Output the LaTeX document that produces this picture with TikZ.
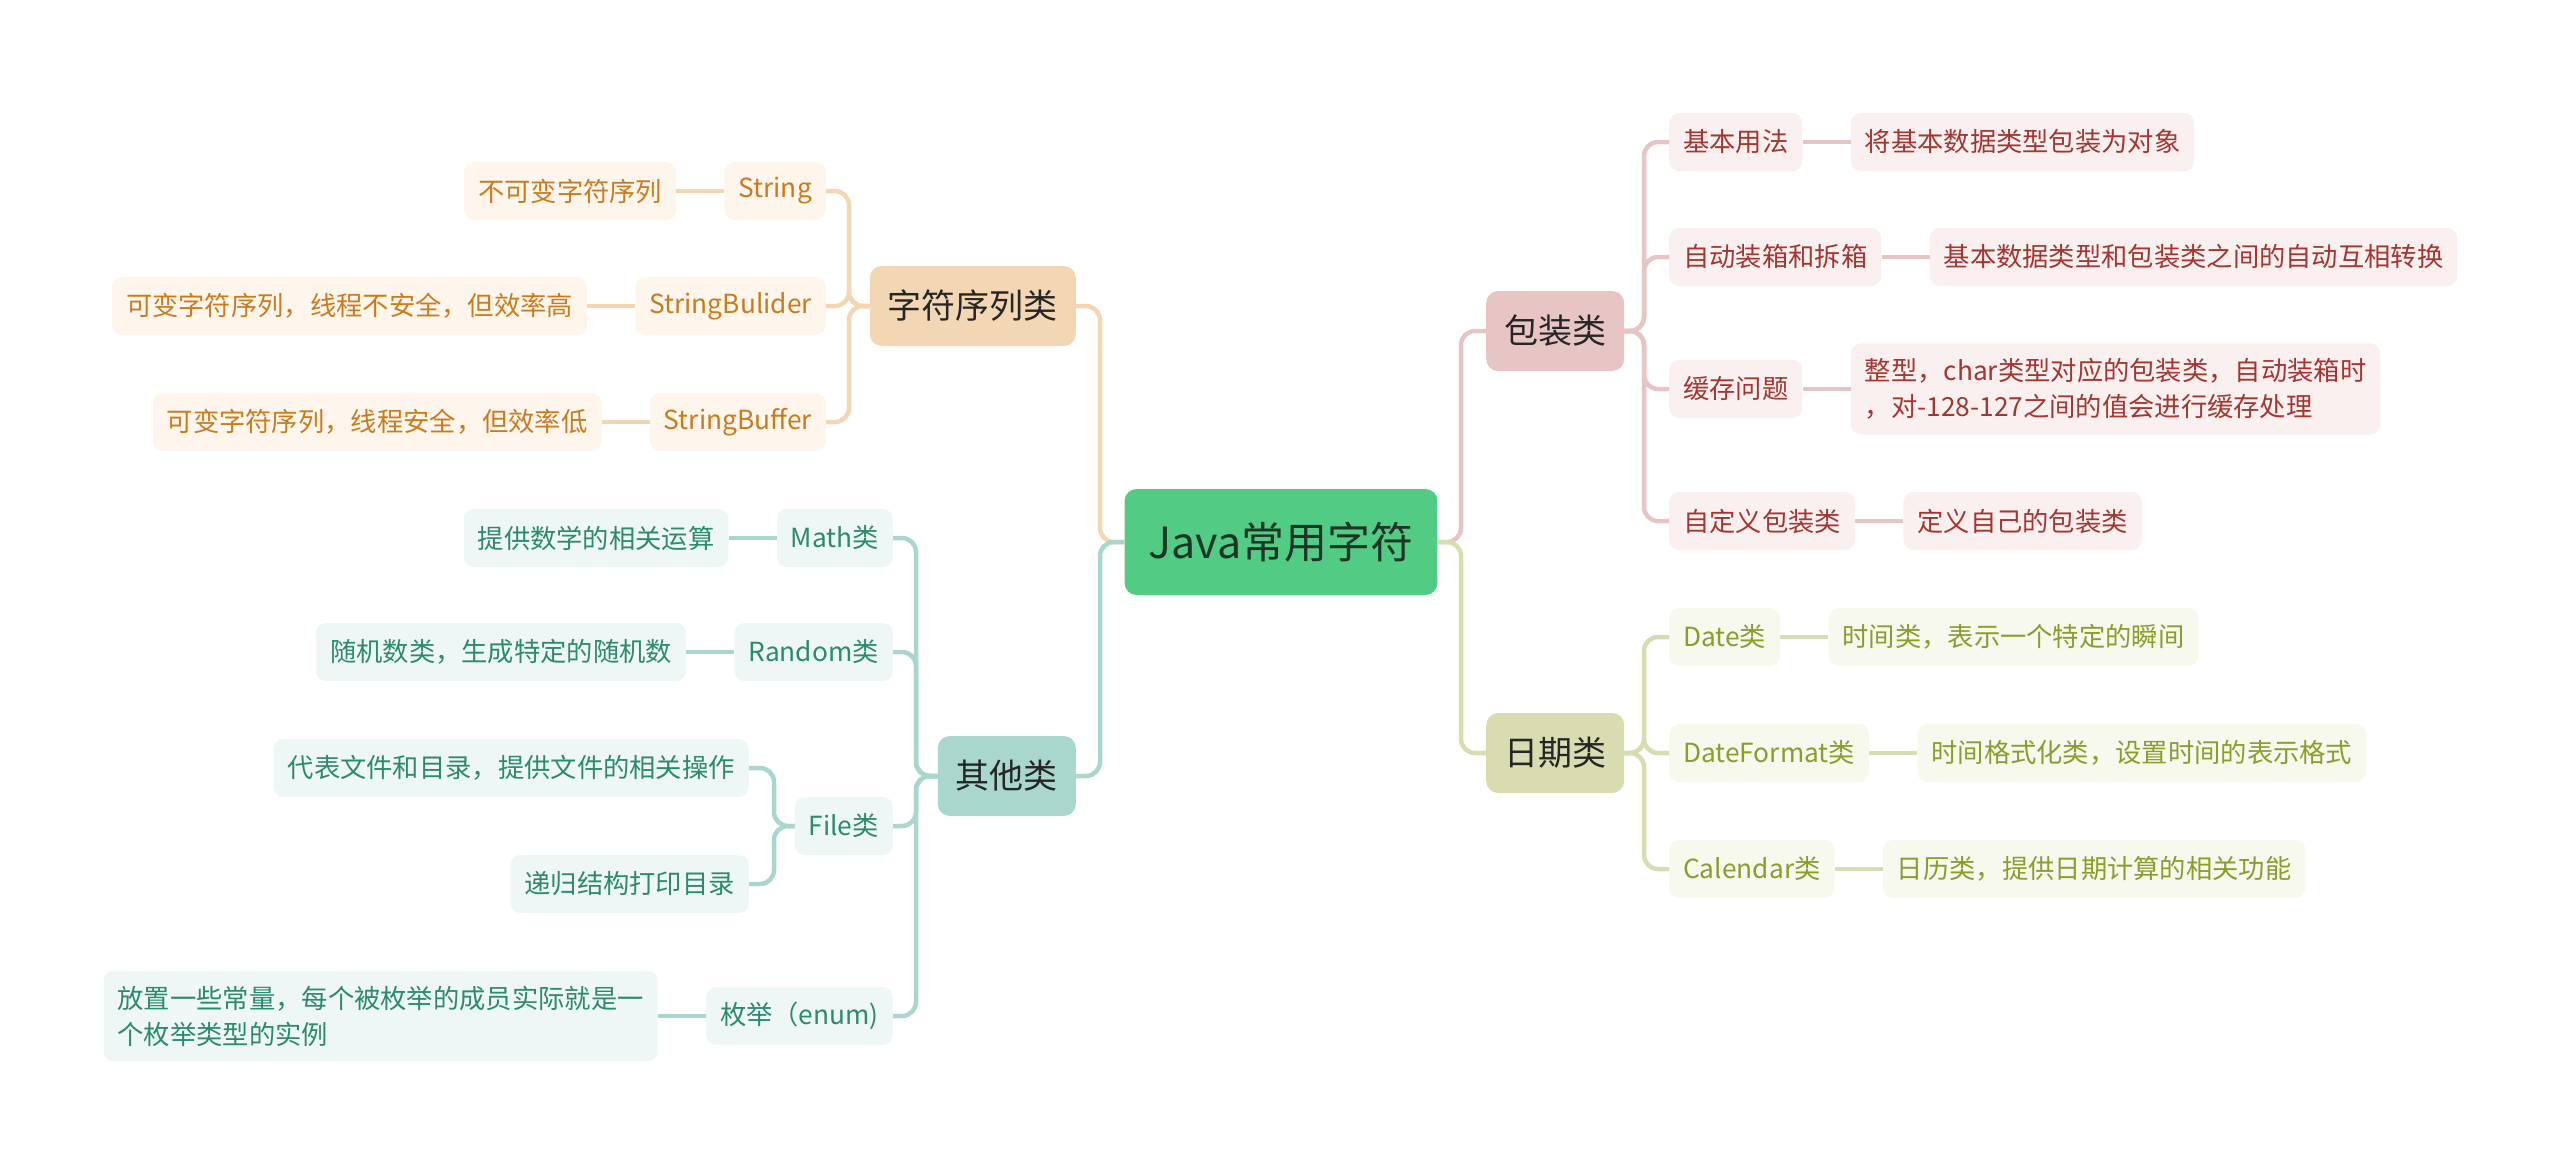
\documentclass[tikz,border=0pt]{standalone}
\usepackage{fontspec}
\setmainfont{Noto Sans CJK SC}
\usetikzlibrary{positioning}

\definecolor{rootfill}{HTML}{52CC84}
\definecolor{roottext}{HTML}{1C3526}
\definecolor{strtop}{HTML}{F3D6B3}
\definecolor{strfill}{HTML}{FEF6EC}
\definecolor{strtext}{HTML}{CC7A1C}
\definecolor{othtop}{HTML}{A9D6CD}
\definecolor{othfill}{HTML}{EEF7F5}
\definecolor{othtext}{HTML}{2C8A70}
\definecolor{wraptop}{HTML}{E8C5C5}
\definecolor{wrapfill}{HTML}{FAF0F0}
\definecolor{wraptext}{HTML}{A53530}
\definecolor{datetop}{HTML}{D9DCB1}
\definecolor{datefill}{HTML}{F7F8EE}
\definecolor{datetext}{HTML}{8E9C2C}

\tikzset{
	root/.style={fill=rootfill, text=roottext, rounded corners=12pt, inner xsep=24pt,
		minimum height=106pt, font=\fontsize{43}{50}\selectfont},
	topic/.style={fill=#1top, text=black!85, rounded corners=12pt, inner xsep=18pt,
		minimum height=80pt, font=\fontsize{34}{40}\selectfont},
	leaf/.style={fill=#1fill, text=#1text, rounded corners=10pt, inner xsep=14pt, inner ysep=15pt,
		minimum height=58pt, align=left, font=\fontsize{26.3}{36}\selectfont},
	link/.style={draw=#1top, line width=4.5pt, rounded corners=14pt}
}

\begin{document}
\begin{tikzpicture}[x=1pt, y=-1pt]
	\useasboundingbox (0,0) rectangle (2560,1175);

	\node[root] (java) at (1281,542) {Java常用字符};

	\node[topic=str, anchor=east] (seq) at (1076,306) {字符序列类};
	\node[topic=oth, anchor=east] (other) at (1076,776) {其他类};
	\node[topic=wrap, anchor=west] (wrap) at (1486,331) {包装类};
	\node[topic=date, anchor=west] (date) at (1486,753) {日期类};

	\coordinate (left trunk) at (1100,542);
	\coordinate (right trunk) at (1461,542);
	\draw[link=str] (java.west) -- (left trunk) |- (seq.east);
	\draw[link=oth] (java.west) -- (left trunk) |- (other.east);
	\draw[link=wrap] (java.east) -- (right trunk) |- (wrap.west);
	\draw[link=date] (java.east) -- (right trunk) |- (date.west);

	% character sequences
	\node[leaf=str, anchor=east] (string) at (826,191) {String};
	\node[leaf=str, anchor=east] (builder) at (826,306) {StringBulider};
	\node[leaf=str, anchor=east] (buffer) at (826,422) {StringBuffer};
	\node[leaf=str, left=48pt of string] (string-d) {不可变字符序列};
	\node[leaf=str, left=48pt of builder] (builder-d) {可变字符序列，线程不安全，但效率高};
	\node[leaf=str, left=48pt of buffer] (buffer-d) {可变字符序列，线程安全，但效率低};

	\coordinate (seq trunk) at (849,306);
	\foreach \n in {string, builder, buffer} {
		\draw[link=str] (seq.west) -- (seq trunk) |- (\n.east);
		\draw[link=str] (\n-d.east) -- (\n.west);
	}

	% other classes
	\node[leaf=oth, anchor=east] (math) at (893,538) {Math类};
	\node[leaf=oth, anchor=east] (random) at (893,652) {Random类};
	\node[leaf=oth, anchor=east] (file) at (893,826) {File类};
	\node[leaf=oth, anchor=east] (enum) at (893,1016) {枚举（enum)};
	\node[leaf=oth, left=48pt of math] (math-d) {提供数学的相关运算};
	\node[leaf=oth, left=48pt of random] (random-d) {随机数类，生成特定的随机数};
	\node[leaf=oth, left=48pt of enum] (enum-d) {放置一些常量，每个被枚举的成员实际就是一\\个枚举类型的实例};
	\node[leaf=oth, anchor=east] (file-a) at (749,768) {代表文件和目录，提供文件的相关操作};
	\node[leaf=oth, anchor=east] (file-b) at (749,884) {递归结构打印目录};

	\coordinate (other trunk) at (916,776);
	\foreach \n in {math, random, file, enum}
		\draw[link=oth] (other.west) -- (other trunk) |- (\n.east);
	\foreach \n in {math, random, enum}
		\draw[link=oth] (\n-d.east) -- (\n.west);
	\coordinate (file trunk) at (774,826);
	\draw[link=oth] (file.west) -- (file trunk) |- (file-a.east);
	\draw[link=oth] (file.west) -- (file trunk) |- (file-b.east);

	% wrapper classes
	\node[leaf=wrap, anchor=west] (basic) at (1669,142) {基本用法};
	\node[leaf=wrap, anchor=west] (boxing) at (1669,257) {自动装箱和拆箱};
	\node[leaf=wrap, anchor=west] (cache) at (1669,389) {缓存问题};
	\node[leaf=wrap, anchor=west] (custom) at (1669,521) {自定义包装类};
	\node[leaf=wrap, right=48pt of basic] (basic-d) {将基本数据类型包装为对象};
	\node[leaf=wrap, right=48pt of boxing] (boxing-d) {基本数据类型和包装类之间的自动互相转换};
	\node[leaf=wrap, right=48pt of cache] (cache-d) {整型，char类型对应的包装类，自动装箱时\\，对-128-127之间的值会进行缓存处理};
	\node[leaf=wrap, right=48pt of custom] (custom-d) {定义自己的包装类};

	\coordinate (wrap trunk) at (1644,331);
	\foreach \n in {basic, boxing, cache, custom} {
		\draw[link=wrap] (wrap.east) -- (wrap trunk) |- (\n.west);
		\draw[link=wrap] (\n.east) -- (\n-d.west);
	}

	% date classes
	\node[leaf=date, anchor=west] (dt) at (1669,637) {Date类};
	\node[leaf=date, anchor=west] (fmt) at (1669,753) {DateFormat类};
	\node[leaf=date, anchor=west] (cal) at (1669,869) {Calendar类};
	\node[leaf=date, right=48pt of dt] (dt-d) {时间类，表示一个特定的瞬间};
	\node[leaf=date, right=48pt of fmt] (fmt-d) {时间格式化类，设置时间的表示格式};
	\node[leaf=date, right=48pt of cal] (cal-d) {日历类，提供日期计算的相关功能};

	\coordinate (date trunk) at (1644,753);
	\foreach \n in {dt, fmt, cal} {
		\draw[link=date] (date.east) -- (date trunk) |- (\n.west);
		\draw[link=date] (\n.east) -- (\n-d.west);
	}
\end{tikzpicture}
\end{document}
